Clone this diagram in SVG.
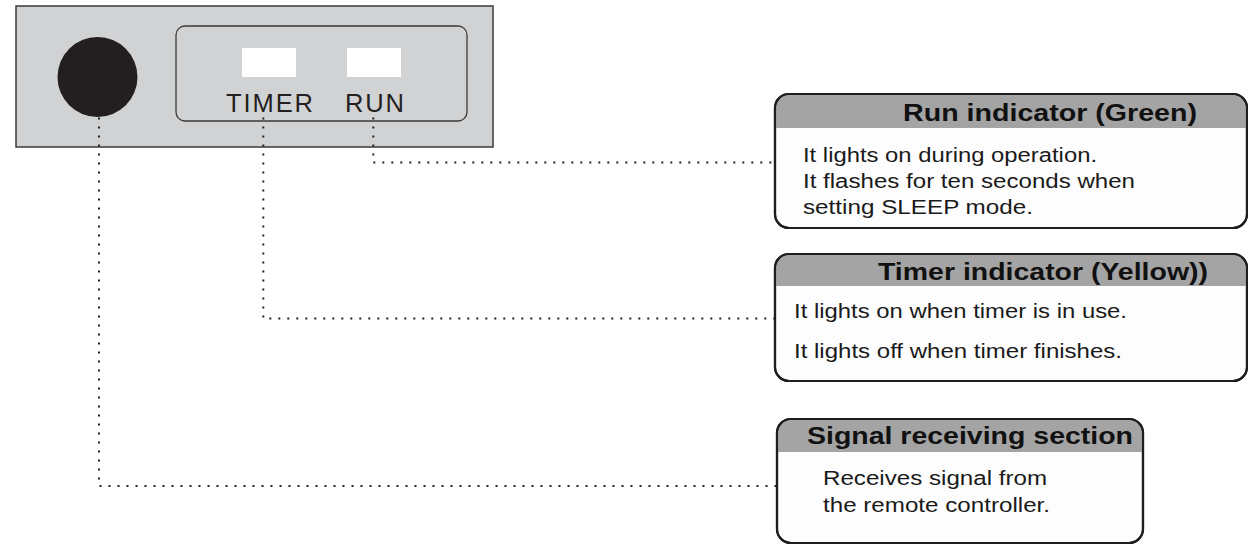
<svg xmlns="http://www.w3.org/2000/svg" width="1248" height="545" viewBox="0 0 1248 545">
  <style>
    .panel { fill: #d1d2d4; stroke: #3a3a3a; stroke-width: 1.5; }
    .window { fill: none; stroke: #3a3a3a; stroke-width: 1.3; }
    .lamp { fill: #ffffff; }
    .lbl { font-family: "Liberation Sans", Arial, Helvetica, sans-serif; font-size: 25.5px; fill: #231f20; }
    .box { fill: #fdfdfd; stroke: #1e1e1e; stroke-width: 2.2; }
    .band { fill: #a4a4a4; }
    .head { font-family: "Liberation Sans", Arial, Helvetica, sans-serif; font-size: 24px; font-weight: bold; fill: #111111; }
    .body { font-family: "Liberation Sans", Arial, Helvetica, sans-serif; font-size: 20px; fill: #1a1a1a; }
    .lead { fill: none; stroke: #222222; stroke-width: 2; stroke-dasharray: 2 7; }
  </style>

  <rect width="1248" height="545" fill="#ffffff"/>

  <!-- indoor unit display panel -->
  <g id="panel">
    <rect class="panel" x="16" y="6" width="477" height="141"/>
    <rect class="window" x="176" y="26" width="291" height="95" rx="9"/>
  </g>

  <g id="sensor">
    <circle cx="97.5" cy="77" r="40" fill="#231f20"/>
  </g>

  <g id="timer-lamp">
    <rect class="lamp" x="242" y="48" width="54" height="29"/>
    <text class="lbl" x="226" y="111.5" textLength="87" lengthAdjust="spacing">TIMER</text>
  </g>

  <g id="run-lamp">
    <rect class="lamp" x="347" y="48" width="54" height="29"/>
    <text class="lbl" x="345" y="111.5" textLength="59" lengthAdjust="spacing">RUN</text>
  </g>

  <!-- dotted leader lines -->
  <g id="connectors">
    <path class="lead" d="M373.3 117.5 V162.5 H775"/>
    <path class="lead" d="M263.3 117.5 V318.5 H775"/>
    <path class="lead" d="M99 117.5 V486 H776"/>
  </g>

  <!-- callouts -->
  <g id="callout-run">
    <rect class="box" x="775" y="94" width="472" height="134" rx="14"/>
    <path class="band" d="M776.1 128 V108 A13 13 0 0 1 789 95.1 H1233 A13 13 0 0 1 1245.9 108 V128 Z"/>
    <rect x="775" y="94" width="472" height="134" rx="14" fill="none" stroke="#1e1e1e" stroke-width="2.2"/>
    <text class="head" x="903" y="121" textLength="294" lengthAdjust="spacingAndGlyphs">Run indicator (Green)</text>
    <text class="body" x="803" y="162" textLength="294" lengthAdjust="spacingAndGlyphs">It lights on during operation.</text>
    <text class="body" x="803" y="188" textLength="332" lengthAdjust="spacingAndGlyphs">It flashes for ten seconds when</text>
    <text class="body" x="803" y="214" textLength="230" lengthAdjust="spacingAndGlyphs">setting SLEEP mode.</text>
  </g>

  <g id="callout-timer">
    <rect class="box" x="775" y="254" width="472" height="127" rx="14"/>
    <path class="band" d="M776.1 286 V268 A13 13 0 0 1 789 255.1 H1233 A13 13 0 0 1 1245.9 268 V286 Z"/>
    <rect x="775" y="254" width="472" height="127" rx="14" fill="none" stroke="#1e1e1e" stroke-width="2.2"/>
    <text class="head" x="878" y="280" textLength="330" lengthAdjust="spacingAndGlyphs">Timer indicator (Yellow))</text>
    <text class="body" x="794" y="318" textLength="333" lengthAdjust="spacingAndGlyphs">It lights on when timer is in use.</text>
    <text class="body" x="794" y="358" textLength="328" lengthAdjust="spacingAndGlyphs">It lights off when timer finishes.</text>
  </g>

  <g id="callout-signal">
    <rect class="box" x="777" y="419" width="366" height="124" rx="14"/>
    <path class="band" d="M778.1 452 V433 A13 13 0 0 1 791 420.1 H1129 A13 13 0 0 1 1141.9 433 V452 Z"/>
    <rect x="777" y="419" width="366" height="124" rx="14" fill="none" stroke="#1e1e1e" stroke-width="2.2"/>
    <text class="head" x="807" y="444" textLength="326" lengthAdjust="spacingAndGlyphs">Signal receiving section</text>
    <text class="body" x="823" y="485" textLength="224" lengthAdjust="spacingAndGlyphs">Receives signal from</text>
    <text class="body" x="823" y="512" textLength="227" lengthAdjust="spacingAndGlyphs">the remote controller.</text>
  </g>
</svg>
